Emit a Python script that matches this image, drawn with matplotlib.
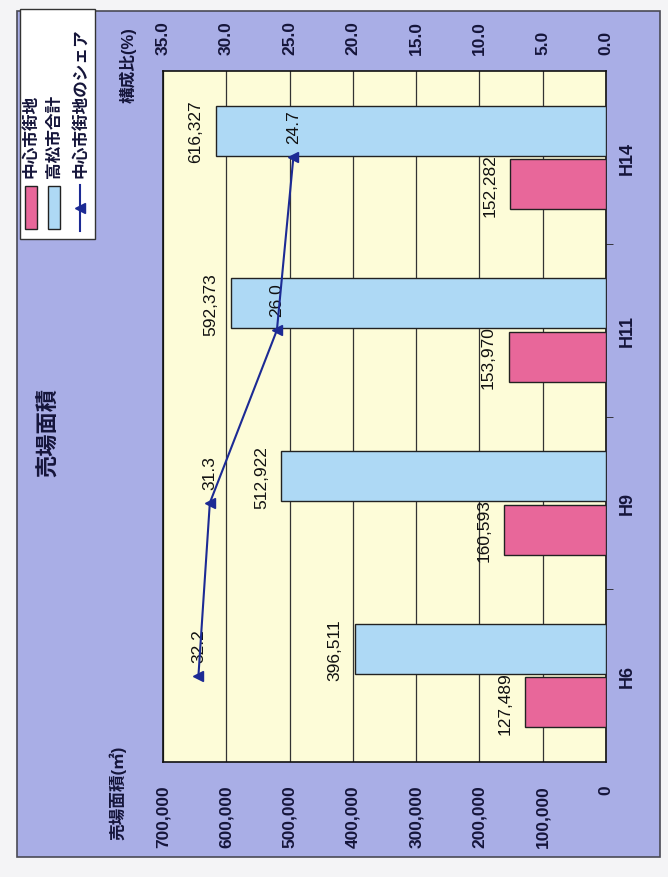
import numpy as np
import matplotlib
matplotlib.use("Agg")
import matplotlib.pyplot as plt
from matplotlib.patches import Rectangle
from matplotlib.lines import Line2D

plt.rcParams['font.family'] = ['Liberation Sans', 'Noto Sans CJK JP']

years = ['H6', 'H9', 'H11', 'H14']
center_area = [127489, 160593, 153970, 152282]   # 中心市街地
city_area = [396511, 512922, 592373, 616327]     # 高松市合計
share = [32.2, 31.3, 26.0, 24.7]                 # 中心市街地のシェア (%)

area_ticks = [0, 100000, 200000, 300000, 400000, 500000, 600000, 700000]
share_ticks = [0, 5, 10, 15, 20, 25, 30, 35]

RED = '#e8679a'
BLUE = '#aed9f5'
LINE = '#1c2a94'
FRAME = '#a9aee6'
PLOT_BG = '#fdfcd8'
TXT = '#15153a'

W, H = 668, 878
fig = plt.figure(figsize=(W / 100, H / 100), dpi=100)
fig.patch.set_facecolor('#f4f4f6')

def fx(px):
    return px / W

def fy(py):
    return 1 - py / H

# lavender chart frame
fig.add_artist(Rectangle((fx(17), fy(858)), (660 - 17) / W, (858 - 12) / H,
                         transform=fig.transFigure, facecolor=FRAME,
                         edgecolor='#4a4a55', lw=1.2, zorder=0))

ax = fig.add_axes([fx(163), fy(763), (606 - 163) / W, (763 - 72) / H])
ax.set_facecolor(PLOT_BG)

pos = np.arange(len(years))
bh = 0.29
ax.barh(pos - 0.155, center_area, height=bh, color=RED, edgecolor='#222222', lw=1.0, zorder=3)
ax.barh(pos + 0.155, city_area, height=bh, color=BLUE, edgecolor='#222222', lw=1.0, zorder=3)

ax.set_xlim(700000, 0)
ax.set_ylim(-0.5, 3.5)
ax.set_xticks(area_ticks)
ax.set_xticklabels([f"{v:,}" for v in area_ticks], rotation=90, fontweight='bold',
                   fontsize=12.5, color=TXT)
ax.tick_params(axis='x', length=0, pad=16)
ax.grid(axis='x', color='#333333', lw=0.9, zorder=1)

ax.yaxis.tick_right()
ax.set_yticks(pos)
ax.set_yticklabels(years, rotation=90, fontweight='bold', fontsize=13, color=TXT, va='center')
ax.set_yticks([0.5, 1.5, 2.5], minor=True)
ax.tick_params(axis='y', which='major', length=0, pad=9)
ax.tick_params(axis='y', which='minor', length=5, direction='out', color='#222222')
for s in ax.spines.values():
    s.set_color('#111111')
    s.set_linewidth(1.2)

for p, v in zip(pos, center_area):
    ax.annotate(f"{v:,}", (v, p - 0.155), xytext=(-9, 0), textcoords='offset points',
                ha='right', va='center', rotation=90, fontsize=12.5, color='#111111', zorder=5)
for p, v in zip(pos, city_area):
    ax.annotate(f"{v:,}", (v, p + 0.155), xytext=(-9, 0), textcoords='offset points',
                ha='right', va='center', rotation=90, fontsize=12.5, color='#111111', zorder=5)

# share line on the secondary axis
ax2 = ax.twiny()
ax2.set_xlim(35, 0)
ax2.set_xticks(share_ticks)
ax2.set_xticklabels([f"{v:.1f}" for v in share_ticks], rotation=90, fontweight='bold',
                    fontsize=12.5, color=TXT)
ax2.tick_params(axis='x', length=0, pad=12)
for s in ax2.spines.values():
    s.set_visible(False)
ax2.plot(share, pos, color=LINE, lw=1.5, marker='<', ms=7, zorder=6)
for p, v in zip(pos, share):
    ax2.annotate(f"{v:.1f}", (v, p), xytext=(0, 10), textcoords='offset points',
                 ha='center', va='bottom', rotation=90, fontsize=12.5, color='#111111')

# titles
fig.text(fx(49), fy(433), '売場面積', rotation=90, ha='center', va='center',
         fontsize=16, fontweight='bold', color=TXT)
fig.text(fx(128), fy(65), '構成比(%)', rotation=90, ha='center', va='center',
         fontsize=12, fontweight='bold', color=TXT)
fig.text(fx(118), fy(793), '売場面積(㎡)', rotation=90, ha='center', va='center',
         fontsize=12, fontweight='bold', color=TXT)

# legend drawn by hand, turned like the rest of the chart
fig.add_artist(Rectangle((fx(20), fy(240)), 75 / W, 230 / H, transform=fig.transFigure,
                         facecolor='white', edgecolor='#333333', lw=1.0, zorder=4))
fig.add_artist(Rectangle((fx(25), fy(230)), 12 / W, 43 / H, transform=fig.transFigure,
                         facecolor=RED, edgecolor='#222222', lw=1.0, zorder=5))
fig.add_artist(Rectangle((fx(48), fy(230)), 12 / W, 43 / H, transform=fig.transFigure,
                         facecolor=BLUE, edgecolor='#222222', lw=1.0, zorder=5))
fig.add_artist(Line2D([fx(80), fx(80)], [fy(232), fy(186)], transform=fig.transFigure,
                      color=LINE, lw=1.5, zorder=5))
fig.add_artist(Line2D([fx(80)], [fy(209)], transform=fig.transFigure, color=LINE,
                      marker='<', ms=7, zorder=6))
for xc, lab in [(31, '中心市街地'), (54, '高松市合計'), (80, '中心市街地のシェア')]:
    fig.text(fx(xc), fy(178), lab, rotation=90, ha='center', va='bottom',
             fontsize=12, fontweight='bold', color=TXT, zorder=6)

fig.savefig('out.png', dpi=100, facecolor=fig.get_facecolor())
